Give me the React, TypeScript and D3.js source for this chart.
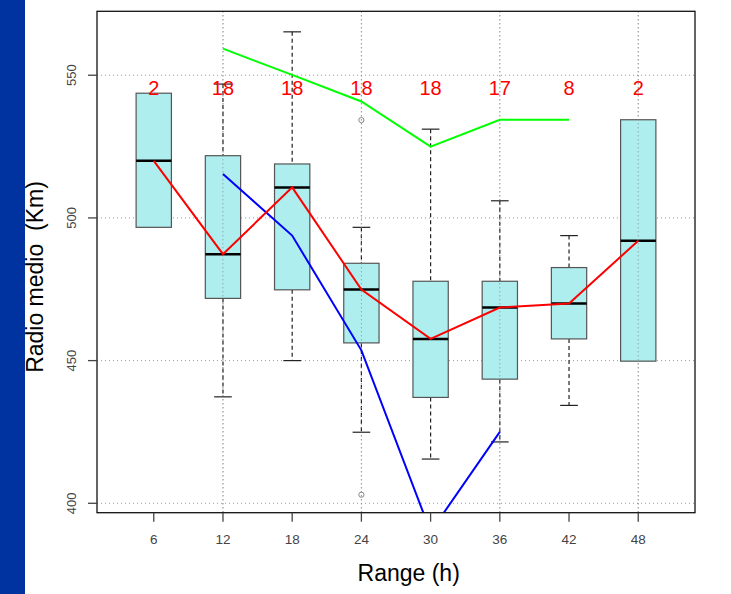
import React from "react";
import * as d3 from "d3";

const categories = ["6", "12", "18", "24", "30", "36", "42", "48"];
const counts = ["2", "18", "18", "18", "18", "17", "8", "2"];
const whiskerLow: (number | null)[] = [null, 437.3, 450.0, 424.9, 415.5, 421.5, 434.3, null];
const q1 = [496.7, 471.8, 474.8, 456.2, 437.1, 443.5, 457.6, 449.8];
const medians = [520.0, 487.3, 510.7, 474.9, 457.6, 468.6, 470.0, 492.0];
const q3 = [543.7, 521.8, 518.9, 484.1, 477.8, 477.8, 482.6, 534.4];
const whiskerHigh: (number | null)[] = [null, 546.9, 565.2, 496.7, 531.1, 506.0, 493.8, null];
const outliers: [number, number][] = [[4, 534.3], [4, 403.0]];
const redLine = [520.0, 487.3, 510.7, 474.9, 457.6, 468.6, 470.0, 492.0];
const blueLine: (number | null)[] = [null, 515.4, 493.8, 453.6, 390.0, 425.0, null, null];
const greenLine: (number | null)[] = [null, 559.3, 550.1, 540.8, 525.0, 534.4, 534.4, null];
const yTicks = [400, 450, 500, 550];
const vGrid = [2, 4, 6, 8];

const W = 731, H = 594;
const L = 97, R = 695, T = 11.3, B = 512.7;

export default function App() {
  const x = d3.scaleLinear().domain([0.18, 8.82]).range([L, R]);
  const y = d3.scaleLinear().domain([396.7, 572.4]).range([B, T]);
  const halfW = x(1.255) - x(1);
  const capHalf = halfW / 2;

  const mkLine = (vals: (number | null)[]) =>
    d3
      .line<number | null>()
      .defined((d) => d !== null)
      .x((_, i) => x(i + 1))
      .y((d) => y(d as number))(vals) || "";

  return (
    <svg
      width={W}
      height={H}
      style={{ position: "absolute", left: 0, top: 0, background: "#fff" }}
      fontFamily="Liberation Sans, Arial, sans-serif"
    >
      <defs>
        <clipPath id="plotclip">
          <rect x={L} y={T} width={R - L} height={B - T} />
        </clipPath>
      </defs>
      <rect x={0} y={0} width={W} height={H} fill="#fff" />

      {yTicks.map((t) => (
        <line key={"h" + t} x1={L} x2={R} y1={y(t)} y2={y(t)} stroke="#999" strokeWidth={1} strokeDasharray="1,3" />
      ))}
      {vGrid.map((p) => (
        <line key={"v" + p} x1={x(p)} x2={x(p)} y1={T} y2={B} stroke="#999" strokeWidth={1} strokeDasharray="1,3" />
      ))}

      {categories.map((c, i) => {
        const cx = x(i + 1);
        return (
          <g key={"b" + c}>
            {whiskerHigh[i] !== null && (
              <>
                <line x1={cx} x2={cx} y1={y(whiskerHigh[i] as number)} y2={y(q3[i])} stroke="#222" strokeWidth={1.2} strokeDasharray="4,3" />
                <line x1={cx - capHalf} x2={cx + capHalf} y1={y(whiskerHigh[i] as number)} y2={y(whiskerHigh[i] as number)} stroke="#222" strokeWidth={1.2} />
              </>
            )}
            {whiskerLow[i] !== null && (
              <>
                <line x1={cx} x2={cx} y1={y(q1[i])} y2={y(whiskerLow[i] as number)} stroke="#222" strokeWidth={1.2} strokeDasharray="4,3" />
                <line x1={cx - capHalf} x2={cx + capHalf} y1={y(whiskerLow[i] as number)} y2={y(whiskerLow[i] as number)} stroke="#222" strokeWidth={1.2} />
              </>
            )}
            <rect x={cx - halfW} y={y(q3[i])} width={2 * halfW} height={y(q1[i]) - y(q3[i])} fill="#AFEEEE" stroke="#555" strokeWidth={1.2} />
            <line x1={cx - halfW} x2={cx + halfW} y1={y(medians[i])} y2={y(medians[i])} stroke="#000" strokeWidth={2.5} />
          </g>
        );
      })}
      {vGrid.map((p) => (
        <line key={"v2" + p} x1={x(p)} x2={x(p)} y1={T} y2={B} stroke="#888" strokeWidth={1} strokeDasharray="1,3" />
      ))}
      {outliers.map(([p, v], k) => (
        <circle key={"o" + k} cx={x(p)} cy={y(v)} r={2.6} fill="none" stroke="#888" strokeWidth={1} />
      ))}

      <g clipPath="url(#plotclip)">
        <path d={mkLine(greenLine)} fill="none" stroke="#00FF00" strokeWidth={2} />
        <path d={mkLine(blueLine)} fill="none" stroke="#0000FF" strokeWidth={2} />
        <path d={mkLine(redLine)} fill="none" stroke="#FF0000" strokeWidth={2} />
      </g>

      {counts.map((n, i) => (
        <text key={"n" + i} x={x(i + 1)} y={95} textAnchor="middle" fontSize={20} fill="#FF0000">
          {n}
        </text>
      ))}

      <rect x={L} y={T} width={R - L} height={B - T} fill="none" stroke="#111" strokeWidth={1.3} />

      {yTicks.map((t) => (
        <g key={"yt" + t}>
          <line x1={L - 9} x2={L} y1={y(t)} y2={y(t)} stroke="#444" strokeWidth={1.3} />
          <text transform={`translate(${76},${y(t)}) rotate(-90)`} textAnchor="middle" fontSize={13} fill="#444">
            {t}
          </text>
        </g>
      ))}
      {categories.map((c, i) => (
        <g key={"xt" + c}>
          <line x1={x(i + 1)} x2={x(i + 1)} y1={B} y2={B + 9} stroke="#444" strokeWidth={1.3} />
          <text x={x(i + 1)} y={543.5} textAnchor="middle" fontSize={13.5} fill="#444">
            {c}
          </text>
        </g>
      ))}

      <text x={408.7} y={580.7} textAnchor="middle" fontSize={23} fill="#000">
        Range (h)
      </text>
      <text
        transform={`translate(43,277) rotate(-90)`}
        textAnchor="middle"
        fontSize={23}
        fill="#000"
        style={{ whiteSpace: "pre" }}
        xmlSpace="preserve"
      >
        {"Radio medio  (Km)"}
      </text>

      <rect x={0} y={0} width={25} height={H} fill="#0033A0" />
    </svg>
  );
}
